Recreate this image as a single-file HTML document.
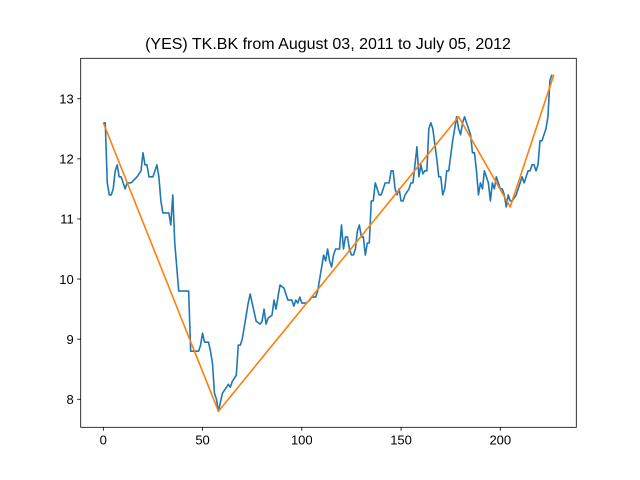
<!DOCTYPE html>
<html><head><meta charset="utf-8"><style>body{margin:0;background:#fff}svg{display:block;font-family:"Liberation Sans","DejaVu Sans",sans-serif}</style></head>
<body>
<svg id="chart" width="640" height="480">
<rect width="640" height="480" fill="#fff"/>
<text x="328" y="49" text-anchor="middle" font-size="16" fill="#000">(YES) TK.BK from August 03, 2011 to July 05, 2012</text>
</svg>
<script>
const priceX=[0,1,2,3,4,5,6,7,8,9,10,11,12,14,17,19,20,21,22,23,25,27,28,29,30,33,34,35,36,38,43,44,48,49,50,51,53,54,55,56,57,58,60,61,62,63,64,65,66,67,68,69,70,73,74,75,77,79,80,81,82,83,85,86,87,88,89,91,93,95,96,97,98,99,100,102,104,105,107,108,111,112,113,114,115,116,117,119,120,121,122,123,124,125,126,127,128,129,130,131,132,133,134,135,136,137,138,139,140,142,144,145,146,147,148,149,150,151,152,154,155,156,157,158,159,160,161,162,163,164,165,166,168,169,170,171,172,173,174,176,177,178,179,180,181,182,183,185,186,187,188,189,190,191,192,193,194,195,196,197,198,199,200,201,202,203,204,205,206,208,209,210,211,212,213,214,215,216,217,218,219,220,221,222,223,224,225,226,227];
const priceY=[12.6,12.6,11.6,11.4,11.4,11.5,11.8,11.9,11.7,11.7,11.6,11.5,11.6,11.6,11.7,11.8,12.1,11.9,11.9,11.7,11.7,11.9,11.7,11.3,11.1,11.1,10.9,11.4,10.6,9.8,9.8,8.8,8.8,8.9,9.1,8.95,8.95,8.8,8.6,8.1,8.0,7.8,8.1,8.15,8.2,8.25,8.2,8.3,8.35,8.4,8.9,8.9,9.0,9.6,9.75,9.6,9.3,9.25,9.3,9.5,9.25,9.35,9.4,9.65,9.5,9.7,9.9,9.85,9.65,9.65,9.55,9.65,9.6,9.7,9.6,9.6,9.65,9.7,9.7,9.8,10.4,10.3,10.5,10.3,10.2,10.4,10.5,10.5,10.9,10.5,10.7,10.7,10.5,10.4,10.4,10.5,10.8,10.9,10.7,10.7,10.4,10.6,10.6,11.3,11.3,11.6,11.5,11.4,11.4,11.6,11.6,11.8,11.8,11.5,11.4,11.5,11.3,11.3,11.4,11.5,11.6,11.6,11.9,12.2,11.7,11.9,11.75,11.8,11.8,12.5,12.6,12.5,12.0,11.7,11.7,11.4,11.5,11.8,11.8,12.3,12.5,12.7,12.5,12.4,12.6,12.7,12.6,12.4,12.1,12.1,11.8,11.4,11.6,11.5,11.8,11.7,11.6,11.3,11.6,11.5,11.7,11.6,11.5,11.5,11.4,11.2,11.4,11.3,11.3,11.4,11.5,11.6,11.7,11.6,11.7,11.8,11.8,11.9,11.9,11.8,11.9,12.3,12.3,12.4,12.5,12.7,13.3,13.4];
const trendX=[0,58,179,205,227];
const trendY=[12.6,7.8,12.7,11.2,13.4];
const xTicks=[0,50,100,150,200];
const yTicks=[8,9,10,11,12,13];

const L=80.7,R=576.3,T=58.3,B=427.3;
function sx(v){return 103.3+(v-0)*1.985;}
function sy(v){return 98.7+(13-v)*60.12;}
const svg=document.getElementById('chart');
const NS='http://www.w3.org/2000/svg';
function mk(tag,attrs){const e=document.createElementNS(NS,tag);for(const k in attrs)e.setAttribute(k,attrs[k]);svg.appendChild(e);return e;}

function linePath(xs,ys){return xs.map((x,i)=>(i?'L':'M')+sx(x).toFixed(2)+' '+sy(ys[i]).toFixed(2)).join(' ');}
const p1=mk('path',{d:linePath(priceX,priceY),fill:'none',stroke:'#1f77b4','stroke-width':1.6,'stroke-linejoin':'round'});


const p2=mk('path',{d:linePath(trendX,trendY),fill:'none',stroke:'#ff7f0e','stroke-width':1.6,'stroke-linejoin':'round'});



const frame=mk('rect',{x:L,y:T,width:R-L,height:B-T,fill:'none',stroke:'#000','stroke-width':0.8});



xTicks.forEach(t=>{
  const x=sx(t);
  const tk=mk('line',{x1:x,x2:x,y1:B,y2:B+3.5,stroke:'#000','stroke-width':0.8});
  
  
  const tx=mk('text',{x:x,y:B+17,'text-anchor':'middle','font-size':13,fill:'#000'});
  tx.textContent=t;
  
  
});
yTicks.forEach(t=>{
  const y=sy(t);
  const tk=mk('line',{x1:L-3.5,x2:L,y1:y,y2:y,stroke:'#000','stroke-width':0.8});
  
  
  const tx=mk('text',{x:L-7,y:y+4.7,'text-anchor':'end','font-size':13,fill:'#000'});
  tx.textContent=t;
  
  
});
</script>
</body></html>
